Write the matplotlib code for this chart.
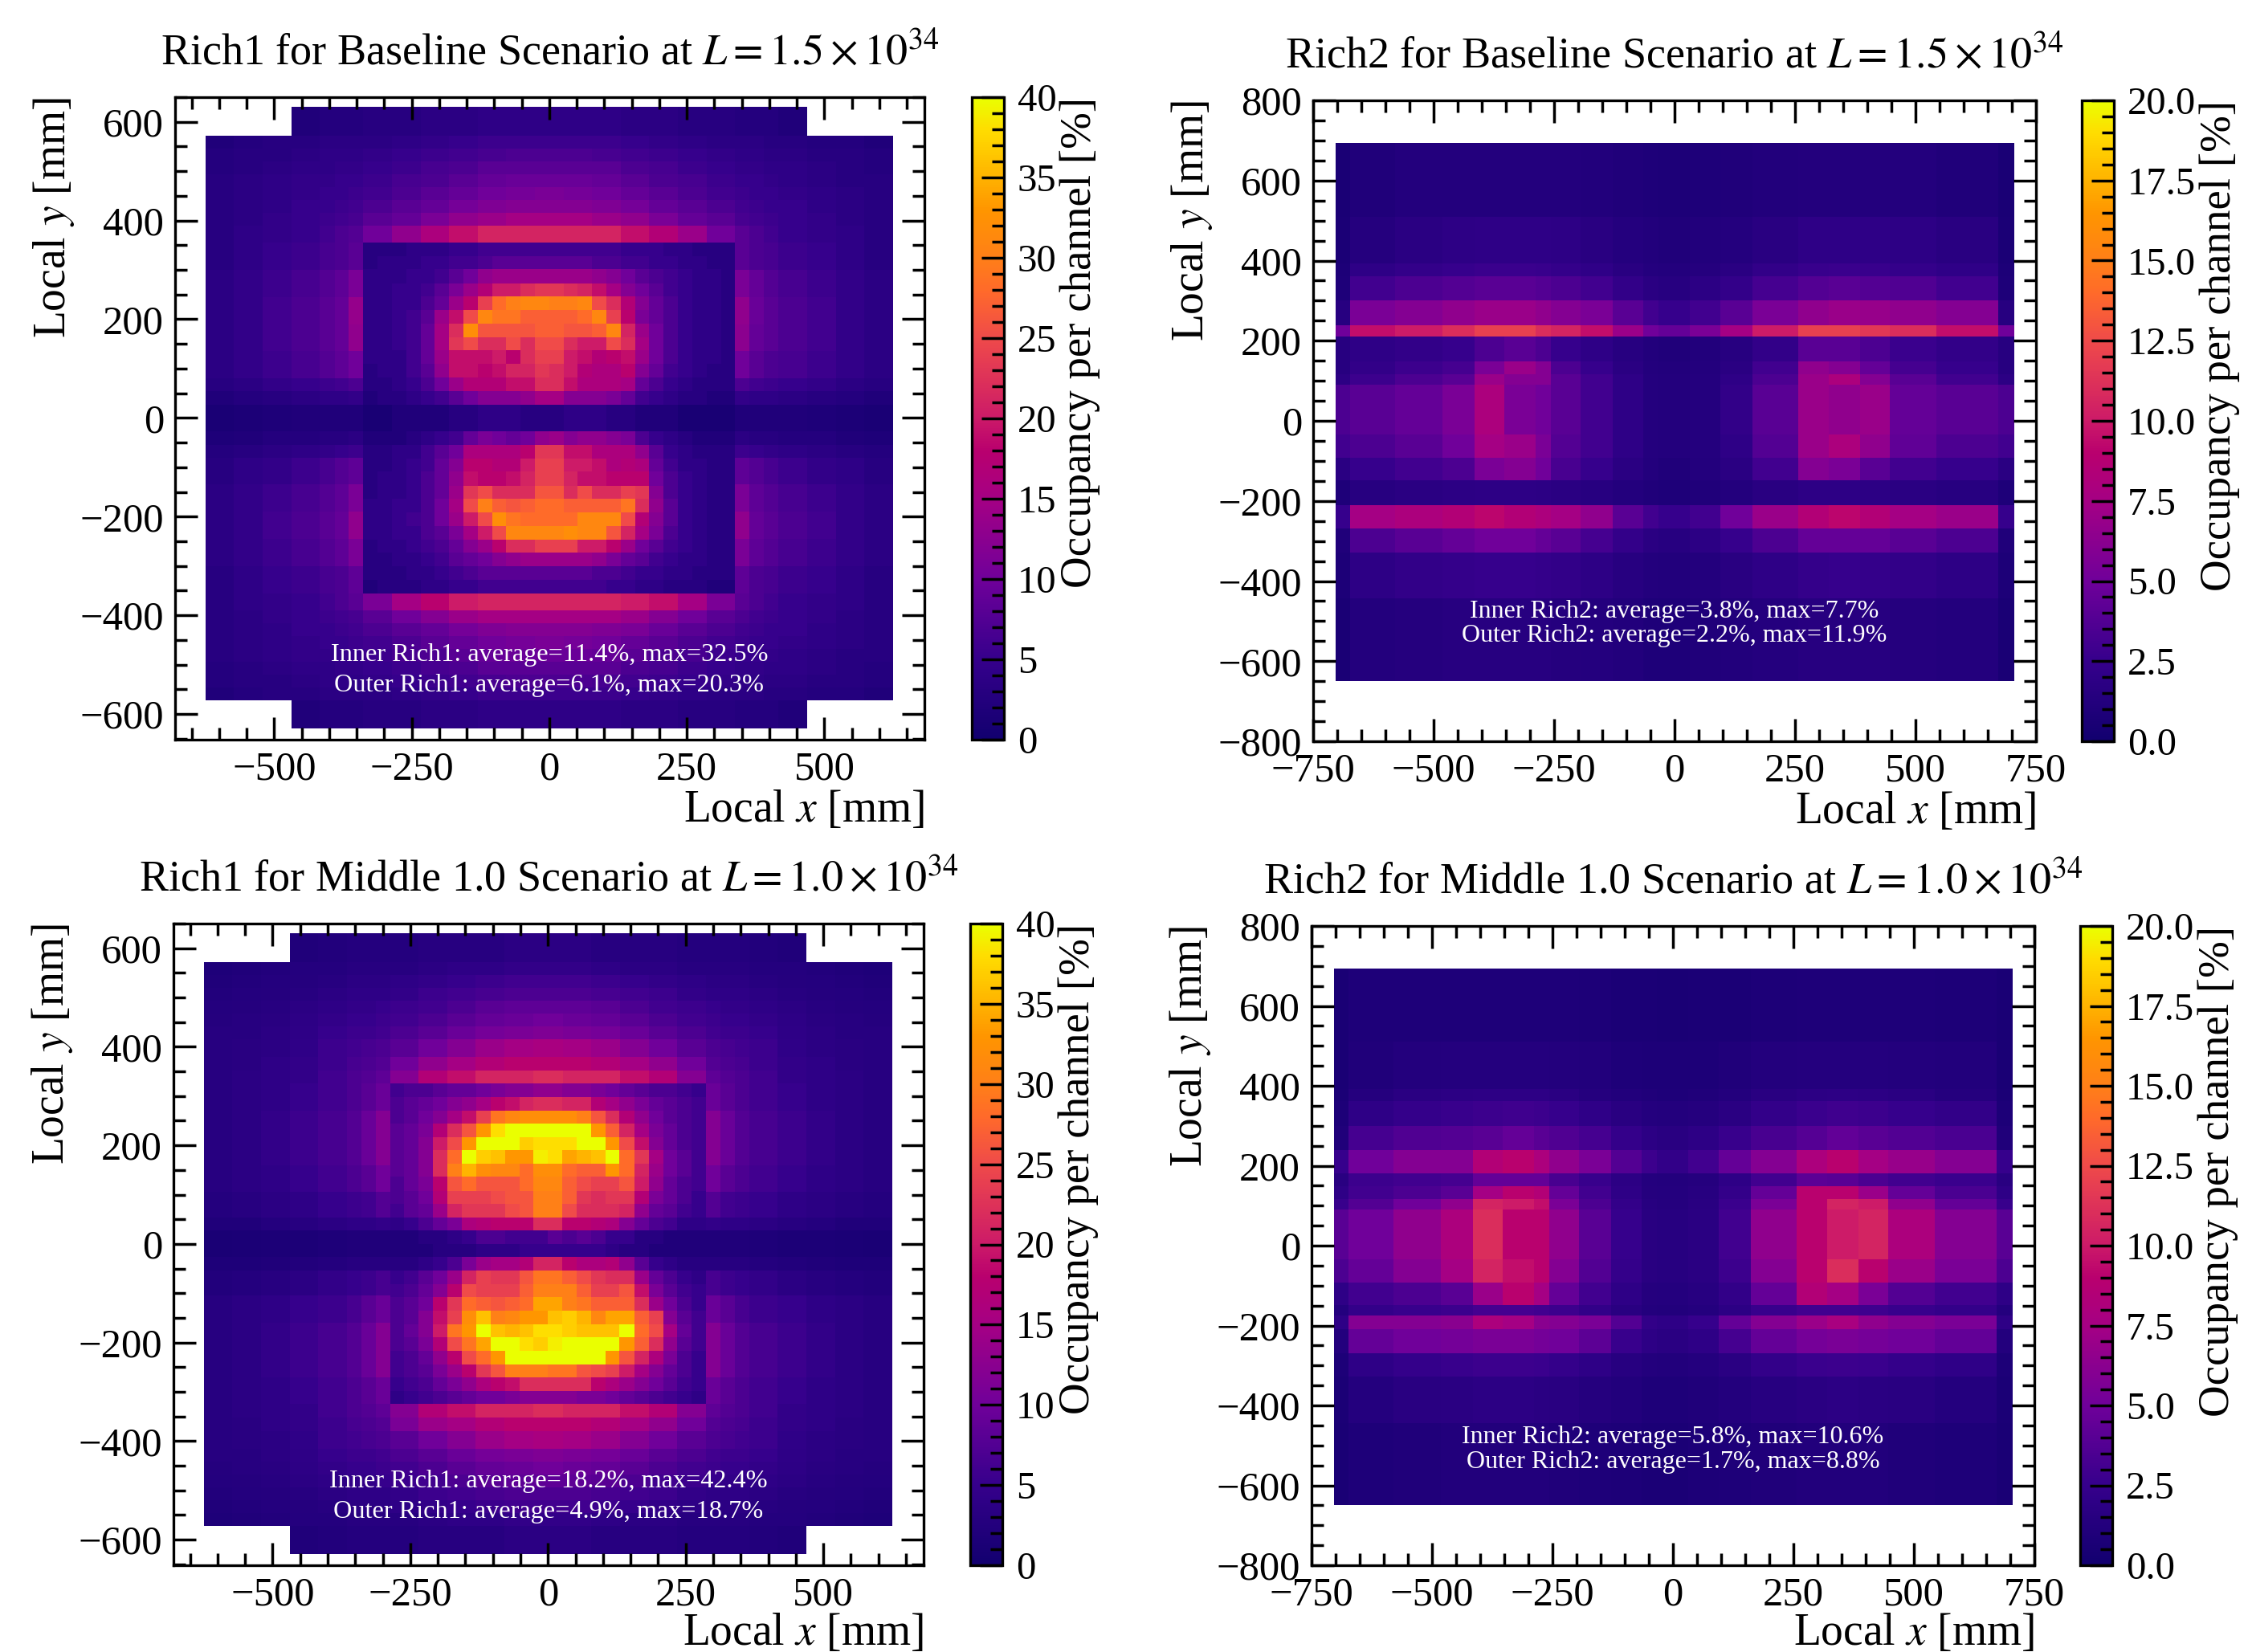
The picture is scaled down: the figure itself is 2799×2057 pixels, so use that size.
import numpy as np
import matplotlib
matplotlib.use("Agg")
import matplotlib.pyplot as plt
from matplotlib.colors import LinearSegmentedColormap
from matplotlib.ticker import MultipleLocator

plt.rcParams['font.family'] = ['Liberation Serif', 'DejaVu Serif']
plt.rcParams['mathtext.fontset'] = 'stix'

n = np.nan
h1 = [n] * 13  # cells of the outer table that the inner table covers
h3 = [n] * 11

# ---- Rich1 baseline ----
r1b_outer_x = [-625,-573,-521,-469,-417,-390,-364,-338,-286,-234,-182,-130,-78,-26,26,78,130,182,234,286,338,364,390,417,469,521,573,625]
r1b_outer_y = [630,572,546,520,494,468,442,416,390,355,300,245,190,135,80,54,27,-27,-54,-80,-135,-190,-245,-300,-355,-390,-416,-442,-468,-494,-520,-546,-572,-630]
r1b_outer = [
[n,n,n,2,2.5,2.5,2.5,3,3,3.5,3.5,4,4,4,4,4,3.5,3.5,3,3,2.5,2.5,2.5,2,n,n,n],
[2,2.5,3,3,3.5,3.5,3.5,3.5,4,4.5,5,5.5,5.5,5.5,5.5,5.5,5,4.5,4,3.5,3.5,3.5,3,3,2.5,2.5,2],
[2.5,3,3,3.5,4,4,4,4.5,5,5.5,6,6.5,7,7,7,6.5,6,5.5,5,4.5,4,4,3.5,3.5,3,3,2.5],
[2.5,3,3.5,4,4,4.5,4.5,5,5.5,6.5,7,8,8,8,8,8,7,6.5,5.5,5,4.5,4.5,4,4,3.5,3,2.5],
[3,3.5,4,4.5,4.5,5,5,5.5,6.5,7,8,9,9.5,9.5,9.5,9,8,7,6.5,5.5,5,5,4.5,4,3.5,3,3],
[3,3.5,4,4.5,5,5,5.5,6,7,8,9,10,10.5,11,10.5,10,9,8,7,6,5.5,5,5,4.5,4,3.5,3],
[3,3.5,4,5,5,5.5,6,7,8,9,10.5,11.5,12,12,12,11.5,10.5,9,8,7,6,5.5,5,5,4,3.5,3],
[3,3.5,4.5,5,5.5,6,6.5,8,9,11,13,14,15,15,15,14,13,11,9,8,6.5,6,5.5,5,4.5,3.5,3],
[3,4,4.5,5,6,7,7.5,10,13,16,19,21,21,21,21,21,19,17,14,10,8,7,6,5,4.5,4,3],
[3,4,5,5.5,6.5,7,8,*h1,8,7,6.5,5.5,5,4,3],
[3.5,4.5,5.5,6.5,7.5,8.5,11,*h1,11,9,7.5,6.5,5.5,4.5,3.5],
[3.5,4.5,6,7,8,9,13.5,*h1,13,9.5,8,7,6,4.5,3.5],
[3.5,4.5,6,7,8,9,13,*h1,12.5,9,8,7,6,4.5,3.5],
[3.5,4.5,5.5,6.5,7.5,8.5,10,*h1,10,8,7,6.5,5.5,4.5,3.5],
[3,3.5,4.5,5,5.5,6,7,*h1,7,6,5.5,5,4.5,3.5,3],
[2,2.5,3,3.5,4,4,4.5,*h1,4.5,4,4,3.5,3,2.5,2],
[1.2,1.5,1.8,2,2,2,2,*h1,2,2,2,2,1.8,1.5,1.2],
[1.8,2,2.5,2.5,3,3,3.5,*h1,3.5,3,3,2.5,2.5,2,1.8],
[2.5,3,3.5,4,4.5,5,5.5,*h1,5.5,5,4.5,4,3.5,3,2.5],
[3,4,4.5,5.5,6.5,7.5,8.5,*h1,8.5,7.5,6.5,5.5,4.5,4,3],
[3.5,4.5,5.5,6.5,7.5,8.5,11,*h1,11,8.5,7.5,6.5,5.5,4.5,3.5],
[3.5,4.5,6,7,8,9,13,*h1,13,9,8,7,6,4.5,3.5],
[3.5,4.5,5.5,6.5,7.5,8.5,11,*h1,11,8.5,7.5,6.5,5.5,4.5,3.5],
[3,4,5,5.5,6.5,7,8.5,*h1,8.5,7,6.5,5.5,5,4,3],
[3,4,4.5,5,6,7,8,11,15,18,20,21,21,21,21,21,20,19,15,11,8,7,6,5,4.5,4,3],
[3,3.5,4.5,5,5.5,6,6.5,8,10,12,14,15,15,15,15,15,14,12,10,8,7,6,5.5,5,4.5,3.5,3],
[3,3.5,4,5,5,5.5,6,7,8,9,10.5,11.5,12,12,12,11.5,11,9.5,8,7,6,5.5,5,5,4,3.5,3],
[3,3.5,4,4.5,5,5,5.5,6,7,8,9,10,10.5,11,10.5,10,9,8,7,6,5.5,5,5,4.5,4,3.5,3],
[3,3.5,4,4.5,4.5,5,5,5.5,6.5,7,8,9,9.5,9.5,9.5,9,8,7,6.5,5.5,5,5,4.5,4,3.5,3,3],
[2.5,3,3.5,4,4,4.5,4.5,5,5.5,6.5,7,8,8,8,8,8,7,6.5,5.5,5,4.5,4.5,4,4,3.5,3,2.5],
[2.5,3,3,3.5,4,4,4,4.5,5,5.5,6,6.5,7,7,7,6.5,6,5.5,5,4.5,4,4,3.5,3.5,3,3,2.5],
[2,2.5,3,3,3.5,3.5,3.5,3.5,4,4.5,5,5.5,5.5,5.5,5.5,5.5,5,4.5,4,3.5,3.5,3.5,3,3,2.5,2.5,2],
[n,n,n,2,2.5,2.5,2.5,3,3,3.5,3.5,4,4,4,4,4,3.5,3.5,3,3,2.5,2.5,2.5,2,n,n,n],
]
r1b_inner_x = [-338,-312,-286,-260,-234,-208,-182,-156,-130,-104,-78,-52,-26,0,26,52,78,104,130,156,182,208,234,260,286,312,338]
r1b_inner_y = [355,328,301,273,246,219,191,164,137,109,82,55,27,0,-27,-55,-82,-109,-137,-164,-191,-219,-246,-273,-301,-328,-355]
r1b_inner = [
[3,3,3,4,4,4,5,5,6,6,6,6,6,6,6,6,6,6,5,5,5,4,4,3,3,3],
[3,4,4,4,5,5,6,6,7,8,8,8,8,8,8,8,7,7,6,6,5,5,4,4,3,3],
[4,4,4,5,5,6,8,10,13,14,14,14,14,14,14,14,13,12,10,8,7,6,5,4,4,3],
[4,4,5,5,6,8,11,14,17,20,20,22,23,23,22,21,19,15,12,10,8,6,5,4,4,3],
[4,4,5,5,7,9,14,18,24,28,30,31,31,30,30,31,25,22,17,12,9,7,5,4,4,3],
[4,4,5,6,8,14,19,25,31,29,29,27,27,27,27,28,31,24,18,11,9,7,5,4,4,3],
[4,4,5,6,9,15,22,32,26,26,26,26,27,27,26,26,27,31,21,14,10,7,5,4,4,3],
[4,4,5,6,9,15,23,25,22,22,25,22,25,25,22,20,20,25,22,15,10,7,5,4,4,3],
[4,4,4,6,9,14,19,19,19,20,18,22,24,24,20,19,17,18,19,14,10,7,5,4,4,3],
[3,4,4,6,8,13,19,19,18,19,21,21,23,22,20,17,16,16,18,12,9,6,5,4,3,3],
[3,3,4,5,7,10,14,17,17,17,19,19,22,22,19,16,16,16,15,9,7,5,4,3,3,3],
[2,3,3,4,5,6,8,10,12,12,12,13,15,15,12,12,12,11,9,6,5,4,3,3,2,2],
[1,1,2,2,2,2,3,3,4,4,4,3,3,3,4,4,4,3,3,2,2,2,1,1,1,1],
[1,1,2,2,2,2,3,3,4,4,4,3,3,3,4,4,4,3,3,2,2,2,1,1,1,1],
[2,2,2,3,4,5,6,9,11,10,9,10,13,14,12,13,13,12,11,7,5,4,3,2,2,2],
[3,3,4,4,6,8,10,16,16,16,16,18,23,23,19,19,16,16,16,13,8,5,4,3,3,3],
[3,3,4,5,6,9,12,18,18,17,17,20,24,24,20,20,19,16,17,16,9,6,4,4,3,3],
[3,4,4,5,7,9,13,19,18,18,19,21,24,24,21,19,19,18,18,18,10,7,5,4,3,3],
[3,4,4,5,7,9,14,23,25,22,22,22,26,26,22,25,22,22,24,23,12,7,5,4,3,3],
[4,4,5,5,7,10,15,25,30,27,26,27,28,28,27,27,27,27,29,22,13,8,5,4,3,3],
[4,4,5,6,7,10,14,20,25,32,29,28,28,28,28,31,31,31,25,17,12,8,5,4,3,3],
[4,4,5,5,7,8,11,15,20,25,31,31,31,31,32,31,31,26,21,15,11,7,5,4,3,3],
[3,4,4,5,6,7,9,12,14,18,22,22,24,24,24,20,20,18,14,10,8,6,5,4,3,3],
[3,3,4,4,5,6,8,9,10,12,13,14,14,14,14,14,13,11,9,8,6,5,4,4,3,3],
[3,3,3,4,4,5,6,7,8,8,8,8,8,8,8,8,7,7,6,5,5,4,4,3,3,3],
[2,3,3,3,4,4,5,5,6,6,6,6,6,6,6,6,6,5,5,4,4,3,3,3,2,2],
]

# ---- Rich1 middle ----
r1m_outer_x = [-625,-573,-521,-469,-417,-365,-339,-313,-287,-235,-183,-131,-79,-27,27,79,131,183,235,287,313,339,365,417,469,521,573,625]
r1m_outer_y = [630,572,546,520,494,468,442,416,380,352,325,270,215,160,105,54,27,-27,-54,-105,-160,-215,-270,-325,-352,-380,-416,-442,-468,-494,-520,-546,-572,-630]
r1m_outer = [
[n,n,n,2,2.2,2.5,2.5,2.5,2.5,3,3,3,3.5,3.5,3.5,3,3,3,2.5,2.5,2.5,2.5,2.2,2,n,n,n],
[1.8,2,2.2,2.5,2.5,3,3,3,3,3.5,4,4,4.5,4.5,4.5,4,3.5,3.5,3,3,3,3,2.5,2.5,2.2,2,1.8],
[2,2.2,2.5,2.8,3,3.5,3.5,3.5,4,4.5,5,5.5,6,6,6,5.5,5,4.5,4,3.5,3.5,3.5,3,2.8,2.5,2.2,2],
[2.2,2.5,2.8,3,3.5,4,4,4,4.5,5.5,6,6.5,7,7,7,6.5,6,5.5,4.5,4,4,4,3.5,3,2.8,2.5,2.2],
[2.5,2.8,3,3.5,4,4.5,4.5,5,5.5,6,7,8,8.5,8.5,8.5,8,7,6,5.5,5,4.5,4.5,4,3.5,3,2.8,2.5],
[2.8,3,3.2,3.8,4.5,5,5,5.5,6,7,8,9,9.5,10,9.5,9,8,7,6,5.5,5,5,4.5,3.8,3.2,3,2.8],
[3,3,3.5,4,5,5.5,5.5,6,7,8,9.5,10.5,11,11.5,11,10.5,9.5,8,7,6,5.5,5.5,5,4,3.5,3,3],
[3,3.2,3.5,4.2,5.5,6,6.5,7,8,10,12,14,15,15.5,15,14,12,10,8,7,6.5,6,5.5,4.2,3.5,3.2,3],
[3,3.2,4,4.5,5.5,6.5,7,7.5,10,13,15,17,18,18,18,17,15,13,10,7.5,7,6.5,5.5,4.5,4,3.2,3],
[3,3.5,4,4.5,6,7,7.5,8.5,12,17,19,21,21,22,21,21,19,17,12,8.5,7.5,7,6,4.5,4,3.5,3],
[3,3.5,4,5,6,7,8,9.5,*h3,9.5,8,7,6,5,4,3.5,3],
[3,3.5,4.5,5.5,6.5,7.5,9.5,12,*h3,12,9.5,7.5,6.5,5.5,4.5,3.5,3],
[3,3.5,4.5,5.5,6.5,7.5,9.5,12,*h3,12,9.5,7.5,6.5,5.5,4.5,3.5,3],
[3,3.5,4,5,6,7,8,10,*h3,10,8,7,6,5,4,3.5,3],
[2.5,3,3.5,4,5,5.5,6,7.5,*h3,7.5,6,5.5,5,4,3.5,3,2.5],
[2,2,2.5,3,3.5,4,4,4.5,*h3,4.5,4,4,3.5,3,2.5,2,2],
[1.2,1.3,1.5,1.5,1.8,2,2,2,*h3,2,2,2,1.8,1.5,1.5,1.3,1.2],
[1.8,1.8,2,2.2,2.5,3,3,3,*h3,3,3,3,2.5,2.2,2,1.8,1.8],
[2.2,2.5,3,3.5,4.5,5,5.5,6.5,*h3,6.5,5.5,5,4.5,3.5,3,2.5,2.2],
[3,3.5,4,5,5.5,6.5,8,9.5,*h3,9.5,8,6.5,5.5,5,4,3.5,3],
[3,3.5,4.5,5.5,6.5,7.5,9.5,12,*h3,12,9.5,7.5,6.5,5.5,4.5,3.5,3],
[3,3.5,4.5,5.5,6.5,7.5,9.5,12,*h3,12,9.5,7.5,6.5,5.5,4.5,3.5,3],
[3,3.5,4,5,6,7,8,9.5,*h3,9.5,8,7,6,5,4,3.5,3],
[3,3.5,4,4.5,6,7,7.5,8.5,12,17,19,21,21,22,21,21,19,17,12,8.5,7.5,7,6,4.5,4,3.5,3],
[3,3.2,4,4.5,5.5,6.5,7,7.5,11,14,15,17,18,18,18,17,15,13,10,7.5,7,6.5,5.5,4.5,4,3.2,3],
[3,3.2,3.5,4.2,5.5,6,6.5,7,8,10,12,14,15,15.5,15,14,12,10,8,7,6.5,6,5.5,4.2,3.5,3.2,3],
[3,3,3.5,4,5,5.5,5.5,6,7,8,9.5,10.5,11,11.5,11,10.5,9.5,8,7,6,5.5,5.5,5,4,3.5,3,3],
[2.8,3,3.2,3.8,4.5,5,5,5.5,6,7,8,9,9.5,10,9.5,9,8,7,6,5.5,5,5,4.5,3.8,3.2,3,2.8],
[2.5,2.8,3,3.5,4,4.5,4.5,5,5.5,6,7,8,8.5,8.5,8.5,8,7,6,5.5,5,4.5,4.5,4,3.5,3,2.8,2.5],
[2.2,2.5,2.8,3,3.5,4,4,4,4.5,5.5,6,6.5,7,7,7,6.5,6,5.5,4.5,4,4,4,3.5,3,2.8,2.5,2.2],
[2,2.2,2.5,2.8,3,3.5,3.5,3.5,4,4.5,5,5.5,6,6,6,5.5,5,4.5,4,3.5,3.5,3.5,3,2.8,2.5,2.2,2],
[1.8,2,2.2,2.5,2.5,3,3,3,3,3.5,4,4,4.5,4.5,4.5,4,3.5,3.5,3,3,3,3,2.5,2.5,2.2,2,1.8],
[n,n,n,2,2.2,2.5,2.5,2.5,2.5,3,3,3,3.5,3.5,3.5,3,3,3,2.5,2.5,2.5,2.5,2.2,2,n,n,n],
]
r1m_inner_x = [-287,-261,-235,-209,-183,-157,-130,-104,-78,-52,-26,0,26,52,78,104,130,157,183,209,235,261,287]
r1m_inner_y = [325,298,271,244,217,190,163,136,108,81,54,27,0,-27,-54,-81,-108,-136,-163,-190,-217,-244,-271,-298,-325]
r1m_inner = [
[6,7,7,8,9,9,10,11,12,12,13,13,12,12,11,10,9,8,7,7,6,5],
[7,8,9,10,12,13,15,18,19,21,22,22,21,21,17,15,13,11,9,8,7,6],
[7,8,10,12,15,19,24,29,31,32,32,32,32,30,26,22,17,13,10,8,7,6],
[8,9,11,17,22,26,33,38,41,41,41,41,41,41,33,27,21,15,11,9,7,6],
[8,9,12,20,25,33,40,41,41,37,38,38,38,40,41,33,25,19,12,9,7,6],
[8,9,12,22,28,41,37,36,33,33,39,38,34,35,36,41,28,23,15,10,8,6],
[8,9,12,22,30,35,32,31,31,28,32,32,28,27,27,33,28,21,14,10,8,6],
[7,9,11,18,26,28,26,26,26,28,31,31,27,25,24,24,26,20,13,9,7,6],
[7,8,10,17,24,24,24,25,26,26,30,30,27,23,22,23,23,17,11,9,7,5],
[6,8,9,14,21,23,23,23,25,26,30,30,25,22,22,22,21,13,9,8,6,5],
[4,5,7,9,11,16,17,18,18,18,22,22,18,18,17,16,12,9,7,6,4,4],
[2,2,3,3,4,5,7,7,6,6,6,8,7,8,7,5,5,3,3,2,2,2],
[2,2,2,3,3,3,4,4,4,5,5,5,5,5,5,4,3,3,2,2,2,2],
[3,3,4,5,7,11,14,15,15,17,21,21,18,16,16,17,13,8,5,4,3,3],
[5,6,8,10,14,21,24,23,23,26,29,29,27,25,23,22,22,14,9,7,5,4],
[6,7,9,12,18,25,24,24,24,27,30,30,30,27,24,24,26,19,11,8,6,5],
[7,8,10,18,23,28,27,26,27,28,34,34,30,29,27,27,27,22,14,10,7,5],
[7,8,12,19,24,32,36,30,31,33,33,36,37,35,31,34,34,27,24,12,8,6],
[7,9,12,20,29,33,41,36,35,36,38,38,37,36,36,36,41,28,25,15,9,6],
[7,8,11,17,25,29,34,41,41,38,37,39,41,41,41,41,33,27,22,13,8,6],
[6,7,9,13,18,25,28,33,41,41,41,41,41,41,41,33,26,21,16,11,7,5],
[6,7,8,11,14,18,23,26,30,30,30,29,29,26,25,24,20,15,12,9,7,5],
[5,6,7,9,11,13,16,18,19,22,22,22,22,22,18,16,14,12,10,8,6,5],
[4,5,6,7,8,9,10,10,11,12,12,12,12,11,11,10,9,8,7,6,5,4],
]

# ---- Rich2 ----
r2_x = [-704,-673,-580,-481,-415,-354,-288,-257,-195,-129,-65,-33,32,95,161,256,320,385,447,544,672,705]
r2b_y = [693,510,392,361,300,239,210,149,116,90,-35,-92,-148,-210,-269,-328,-444,-650]
r2b = [
[.6,1,1.2,1.2,1.2,1.2,1.2,1.2,1.1,1,.9,.8,.9,1,1.1,1.2,1.2,1.2,1.2,1,.6],
[.7,1.4,1.7,1.9,2,2,2,1.9,1.6,1.3,1.1,1,1.1,1.3,1.6,2,2,2,1.9,1.6,.7],
[.8,2,2.3,2.5,2.7,2.7,2.6,2.4,2.1,1.6,1.3,1.2,1.4,1.7,2.2,2.6,2.7,2.6,2.4,2.1,.8],
[.9,3,3.5,3.8,4,4,3.8,3.5,3,2.2,1.7,1.5,1.8,2.3,3.2,3.8,4,3.8,3.6,3,.9],
[1.5,5.5,6,6.5,7,7,6.5,6,5.5,4,3,2.5,3,4,5.5,6.5,7,6.8,6.5,6,1.5],
[5,9.5,10,11,12,12,11,10.5,9.5,7,5,4.5,5.5,7.5,10,12,12,11.5,11,9.5,5],
[1.5,2,2.2,2.5,3.5,4,3.5,2.5,2,1.5,1.1,1,1.1,1.5,2.2,4,4,3.5,2.7,2.2,1.5],
[1.5,2.2,2.8,3.2,5.5,7,6,3.5,2.5,1.7,1.2,1.1,1.2,1.7,3,6.5,6,4.5,3.2,2.5,1.5],
[1.8,2.8,3.5,4,7,6,6,4,3,2,1.3,1.2,1.3,2,3.5,7,8,6,4,3,1.8],
[3.5,4,4.5,5.5,8,5.5,5,4,3,2,1.3,1.2,1.3,2.2,4,7,6.5,7,4.5,4,3.5],
[3,3.5,4,5,7.5,7,5.5,3.8,3,2,1.3,1.2,1.3,2,3.8,7,8,6.5,4.3,3.5,3],
[1.7,2.5,3,3.5,5.5,6,5,3.3,2.5,1.7,1.2,1,1.2,1.7,3,6,5.5,4,3,2.5,1.7],
[.9,1.5,1.7,1.8,1.9,1.9,1.8,1.7,1.5,1.2,1,.9,1,1.2,1.6,1.9,1.9,1.8,1.7,1.5,.9],
[2.5,7.5,8,8.5,9.2,8.5,8,7.5,6.5,4,3,2.5,3,5,7,8.5,9.2,8.5,7.5,7,2.5],
[1,3.5,4,4.5,5,5,4.5,4,3.2,2.3,1.7,1.5,1.8,2.5,3.5,4.5,4.5,4.5,4,3.5,1],
[.8,1.9,2.2,2.4,2.5,2.5,2.4,2.2,1.9,1.5,1.2,1.1,1.2,1.6,2,2.4,2.5,2.4,2.2,1.9,.8],
[.6,1.2,1.4,1.5,1.5,1.5,1.5,1.4,1.3,1.1,.9,.9,1,1.1,1.3,1.5,1.5,1.5,1.4,1.2,.6],
]
r2m_y = [693,510,392,361,300,239,181,149,116,90,-35,-92,-148,-175,-210,-269,-328,-444,-650]
r2m = [
[.6,.9,.9,.9,.9,.9,.9,.9,.8,.7,.7,.6,.7,.7,.8,.9,.9,.9,.9,.8,.6],
[.6,1,1.2,1.3,1.3,1.3,1.3,1.2,1.1,.9,.8,.8,.8,1,1.2,1.3,1.3,1.3,1.2,1.1,.6],
[.7,1.4,1.7,1.8,1.9,1.9,1.9,1.7,1.4,1.1,1,.9,1,1.2,1.6,1.8,1.9,1.8,1.7,1.4,.7],
[.8,2,2.4,2.6,2.8,2.9,2.8,2.5,2.1,1.6,1.3,1.2,1.4,1.7,2.3,2.7,2.9,2.8,2.5,2.2,.8],
[1,3.2,3.6,3.8,4,4.5,4,3.6,3.2,2.4,1.8,1.6,1.9,2.6,3.3,3.9,4.4,4,3.7,3.4,1],
[2.5,5,6,6,8.5,9,8,6.5,5.5,3.8,2.8,2.2,3,4.5,6,8,9,7.5,6.8,6,2.5],
[1.6,2.8,3,3.2,4.5,4.5,4.5,3.3,2.6,1.8,1.3,1.2,1.4,2,3,4.2,4,3.5,3,2.7,1.6],
[2,3,3.5,4,7.5,9,8.5,4.5,3,2,1.4,1.3,1.5,2.3,4.5,9,9,7,4.5,3.4,2],
[2.6,3.8,5,6.5,10.5,10,9.5,5.5,3.5,2.3,1.5,1.4,1.6,2.7,5.5,9,10.5,10,6.5,4.5,2.6],
[4,5,6.5,8,11,9,9,6.5,4,2.5,1.6,1.5,1.7,3,6.5,9,10,10.5,8,6,4],
[3.5,4.5,6,7.5,10.5,9.5,9,6,3.7,2.4,1.6,1.5,1.7,2.8,6,9,11,9,7,5.5,3.5],
[2,3,3.5,4,7,9,7.5,4.5,3,2,1.4,1.3,1.5,2.2,4.5,8.5,7.5,5.5,3.8,3,2],
[1.3,2.3,2.6,2.8,3.2,3.2,3,2.8,2.2,1.6,1.2,1.1,1.3,1.8,2.6,3,3,2.9,2.6,2.3,1.3],
[2,6,6,6.2,8,7.5,6.2,6,5.5,3.8,2.2,2,2.5,4.5,6,7,7.8,6.5,6,5.5,2],
[1.2,4.5,5,5.2,5.5,5.5,5.2,5,4.2,2.6,1.9,1.7,2,3.2,4.5,5.3,5.5,5.3,5,4.4,1.2],
[.8,2,2.4,2.6,2.8,2.8,2.7,2.4,2,1.5,1.2,1.1,1.3,1.7,2.3,2.7,2.8,2.7,2.4,2.1,.8],
[.7,1.3,1.6,1.7,1.8,1.8,1.7,1.6,1.4,1.1,.9,.9,1,1.2,1.5,1.7,1.8,1.7,1.6,1.3,.7],
[.6,.9,1,1.1,1.1,1.1,1.1,1,.9,.8,.7,.7,.8,.9,1,1.1,1.1,1.1,1,.9,.6],
]

titles = [r"Rich1 for Baseline Scenario at $L = 1.5 \times 10^{34}$",
          r"Rich2 for Baseline Scenario at $L = 1.5 \times 10^{34}$",
          r"Rich1 for Middle 1.0 Scenario at $L = 1.0 \times 10^{34}$",
          r"Rich2 for Middle 1.0 Scenario at $L = 1.0 \times 10^{34}$"]
notes = [("Inner Rich1: average=11.4%, max=32.5%", "Outer Rich1: average=6.1%, max=20.3%"),
         ("Inner Rich2: average=3.8%, max=7.7%", "Outer Rich2: average=2.2%, max=11.9%"),
         ("Inner Rich1: average=18.2%, max=42.4%", "Outer Rich1: average=4.9%, max=18.7%"),
         ("Inner Rich2: average=5.8%, max=10.6%", "Outer Rich2: average=1.7%, max=8.8%")]

cmap_pos = [0, 5, 10, 15, 18, 20, 25, 28, 30, 33, 36, 38, 40]
cmap_col = ['#12006f', '#36008c', '#70009a', '#a50084', '#b9006e', '#cc1a68', '#ef4a4a',
            '#ff6a2a', '#ff7f18', '#ff9500', '#ffc000', '#ffdc00', '#eaff00']
occ_cmap = LinearSegmentedColormap.from_list('occ', [(p / 40, c) for p, c in zip(cmap_pos, cmap_col)])

W, H = 2799, 2057
fig = plt.figure(figsize=(W / 100, H / 100), dpi=100)


def add_box(x0, x1, y0, y1):
    return fig.add_axes([x0 / W, 1 - y1 / H, (x1 - x0) / W, (y1 - y0) / H])


def style_axis(ax, xmaj, xmin, ymaj, ymin):
    ax.xaxis.set_major_locator(MultipleLocator(xmaj))
    ax.xaxis.set_minor_locator(MultipleLocator(xmin))
    ax.yaxis.set_major_locator(MultipleLocator(ymaj))
    ax.yaxis.set_minor_locator(MultipleLocator(ymin))
    ax.tick_params(which='both', direction='in', top=True, right=True, width=2.5, labelsize=36.5)
    ax.tick_params(which='major', length=20, pad=10)
    ax.tick_params(which='minor', length=11)
    for s in ax.spines.values():
        s.set_linewidth(2.4)


def draw_panel(i, box, cbox, cells, vmax, cmaj, cmin, ylines):
    ax = add_box(*box)
    mesh = None
    for xe, ye, z in cells:
        mesh = ax.pcolormesh(xe, ye, np.array(z, dtype=float), cmap=occ_cmap, vmin=0, vmax=vmax)
    ax.set_title(titles[i], fontsize=39, pad=29)
    ax.set_xlabel(r"Local $x$ [mm]", fontsize=40, loc='right', labelpad=-1 if i > 1 else 1)
    ax.set_ylabel(r"Local $y$ [mm]", fontsize=40, loc='top', labelpad=3)
    for line, y in zip(notes[i], ylines):
        ax.text(0, y, line, color='white', ha='center', va='center', fontsize=23.2 if i % 2 == 0 else 23)

    cax = add_box(*cbox)
    cb = fig.colorbar(mesh, cax=cax)
    cb.set_label("Occupancy per channel [%]", fontsize=39.5, loc='top', labelpad=3)
    cb.outline.set_linewidth(2.4)
    cax.yaxis.set_major_locator(MultipleLocator(cmaj))
    cax.yaxis.set_minor_locator(MultipleLocator(cmin))
    cax.tick_params(which='both', direction='in', width=2.5, labelsize=35, right=True)
    cax.tick_params(which='major', length=20, pad=12)
    cax.tick_params(which='minor', length=11)
    return ax


ax = draw_panel(0, (218, 1151, 121, 921), (1210, 1250, 121, 921),
                [(r1b_outer_x, r1b_outer_y, r1b_outer), (r1b_inner_x, r1b_inner_y, r1b_inner)],
                40, 5, 1, (-481, -542))
ax.set_xlim(-680, 682)
ax.set_ylim(-652, 650)
style_axis(ax, 250, 50, 200, 50)

ax = draw_panel(1, (1635, 2535, 125, 923), (2592, 2632, 125, 923),
                [(r2_x, r2b_y, r2b)], 20, 2.5, 0.5, (-476, -537))
ax.set_xlim(-750, 750)
ax.set_ylim(-800, 800)
style_axis(ax, 250, 50, 200, 50)

ax = draw_panel(2, (216, 1150, 1150, 1949), (1208, 1248, 1150, 1949),
                [(r1m_outer_x, r1m_outer_y, r1m_outer), (r1m_inner_x, r1m_inner_y, r1m_inner)],
                40, 5, 1, (-482, -543))
ax.set_xlim(-680, 682)
ax.set_ylim(-652, 650)
style_axis(ax, 250, 50, 200, 50)

ax = draw_panel(3, (1633, 2533, 1153, 1949), (2590, 2630, 1153, 1949),
                [(r2_x, r2m_y, r2m)], 20, 2.5, 0.5, (-480, -541))
ax.set_xlim(-750, 750)
ax.set_ylim(-800, 800)
style_axis(ax, 250, 50, 200, 50)

fig.savefig('out.png', dpi=100)
